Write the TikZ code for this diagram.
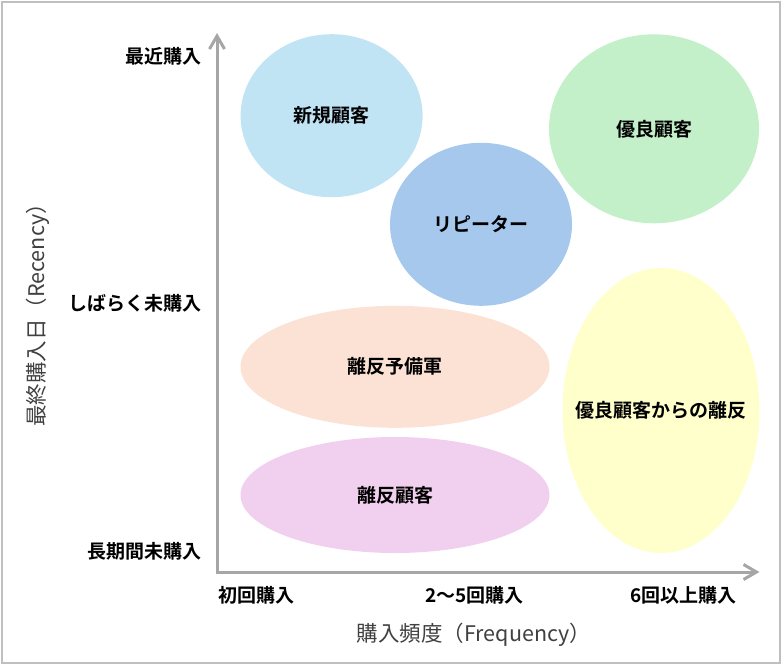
\documentclass[tikz,border=0pt]{standalone}
\usepackage{fontspec}
\setmainfont{Noto Sans CJK JP}[BoldFont={Noto Sans CJK JP Bold}]
\usetikzlibrary{shapes.geometric,arrows.meta}
\definecolor{cNew}{RGB}{193,228,245}
\definecolor{cGood}{RGB}{195,240,200}
\definecolor{cRep}{RGB}{165,200,236}
\definecolor{cPre}{RGB}{251,226,213}
\definecolor{cLost}{RGB}{241,207,238}
\definecolor{cGoodLost}{RGB}{255,255,204}
\definecolor{axisgray}{RGB}{166,166,166}
\definecolor{framegray}{RGB}{191,191,191}
\definecolor{titlegray}{RGB}{64,64,64}
\begin{document}
\begin{tikzpicture}[x=1pt,y=-1pt,
  blob/.style={ellipse,inner sep=0pt,draw=none},
  lbl/.style={font=\fontsize{19}{22}\selectfont\bfseries,text=black,inner sep=0pt},
  ylbl/.style={lbl,anchor=east},
  xlbl/.style={lbl,anchor=center},
  axtitle/.style={font=\fontsize{21.5}{24}\selectfont,text=titlegray,inner sep=0pt},
  axisline/.style={draw=axisgray,line width=3pt,line join=miter,
    {Straight Barb[length=13pt,width=15pt]}-{Straight Barb[length=13pt,width=15pt]}}
]
\useasboundingbox (0,0) rectangle (782,664);
\draw[framegray,line width=2pt] (1.5,1.5) rectangle (780,663);

% ellipses
\node[blob,fill=cNew,minimum width=182pt,minimum height=163pt] (eNew) at (331.6,115.7) {};
\node[blob,fill=cGood,minimum width=210pt,minimum height=189pt] (eGood) at (654,128.8) {};
\node[blob,fill=cRep,minimum width=182pt,minimum height=163pt] (eRep) at (481,224.3) {};
\node[blob,fill=cPre,minimum width=309pt,minimum height=122pt] (ePre) at (395,366.8) {};
\node[blob,fill=cLost,minimum width=309pt,minimum height=116pt] (eLost) at (395,495) {};
\node[blob,fill=cGoodLost,minimum width=197pt,minimum height=285pt] (eGoodLost) at (661,410.5) {};

\node[lbl] (tNew) at (eNew.center) {新規顧客};
\node[lbl] (tGood) at (eGood.center) {優良顧客};
\node[lbl] (tRep) at (eRep.center) {リピーター};
\node[lbl] (tPre) at (ePre.center) {離反予備軍};
\node[lbl] (tLost) at (eLost.center) {離反顧客};
\node[lbl] (tGoodLost) at (eGoodLost.center) {優良顧客からの離反};

% axes
\coordinate (o) at (217,572);
\coordinate (ytip) at (217,33);
\coordinate (xtip) at (759.5,572);
\draw[axisline] (ytip) -- (o) -- (xtip);

% y labels
\node[ylbl] (y1) at (202,56) {最近購入};
\node[ylbl] (y2) at (202,303) {しばらく未購入};
\node[ylbl] (y3) at (202,551) {長期間未購入};

% x labels
\node[xlbl] (x1) at (256.5,595) {初回購入};
\node[xlbl] (x2) at (474.5,595) {2〜5回購入};
\node[xlbl] (x3) at (683.5,595) {6回以上購入};

% titles
\node[axtitle] (xt) at (474,635) {購入頻度（Frequency）};
\node[axtitle,rotate=90] (yt) at (38,310) {最終購入日（Recency）};
\end{tikzpicture}
\end{document}
